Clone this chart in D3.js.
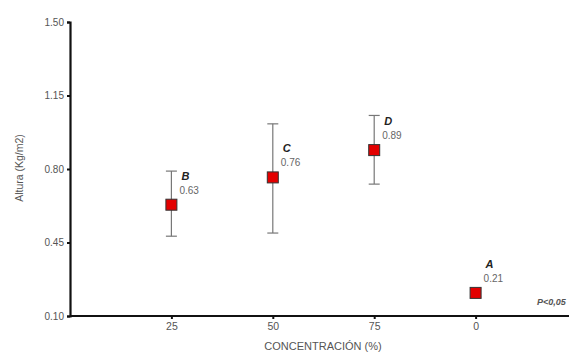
<!DOCTYPE html>
<html>
<head>
<meta charset="utf-8">
<script src="https://cdn.jsdelivr.net/npm/d3@7/dist/d3.min.js"></script>
<style>
  html, body { margin: 0; padding: 0; background: #fff; }
  svg { display: block; font-family: "Liberation Sans", Arial, sans-serif; }
</style>
</head>
<body>
<svg id="chart" width="569" height="353"></svg>
<script>
// Concentration groups along the x axis
const categories = ["25", "50", "75", "0"];
// Mean height per group and the ends of its error bar
const means = [0.63, 0.76, 0.89, 0.21];
const upper = [0.79, 1.015, 1.055, 0.23];
const lower = [0.48, 0.495, 0.728, 0.19];
// Significance letters for each group
const letters = ["B", "C", "D", "A"];
// Y axis tick values
const yTicks = [0.10, 0.45, 0.80, 1.15, 1.50];

const svg = d3.select("#chart");

const x = d3.scalePoint().domain(categories).range([70, 577]).padding(1);
const y = d3.scaleLinear().domain([0.10, 1.50]).range([316, 22]);

const rows = categories.map((c, i) => ({
  cat: c, mean: means[i], hi: upper[i], lo: lower[i], letter: letters[i]
}));

// Y axis
const yAxis = svg.append("g")
  .attr("transform", "translate(70,0)")
  .call(d3.axisLeft(y).tickValues(yTicks).tickFormat(d3.format(".2f")).tickSize(3).tickPadding(3));
yAxis.select(".domain").attr("stroke", "#111").attr("stroke-width", 2.2);
yAxis.selectAll(".tick line").attr("stroke", "#111").attr("stroke-width", 2);
yAxis.selectAll(".tick text")
  .attr("fill", "#555").style("font-size", "10px")
  .style("font-family", "Liberation Sans, Arial, sans-serif");

// X axis, running to the right edge
const xAxis = svg.append("g")
  .attr("transform", "translate(0,316)")
  .call(d3.axisBottom(x).tickSize(3).tickPadding(4).tickSizeOuter(0));
xAxis.select(".domain").attr("d", "M70,0H569").attr("stroke", "#111").attr("stroke-width", 2.2);
xAxis.selectAll(".tick line").attr("stroke", "#111").attr("stroke-width", 2);
xAxis.selectAll(".tick text")
  .attr("fill", "#555").style("font-size", "10.5px")
  .style("font-family", "Liberation Sans, Arial, sans-serif");

// Axis titles
svg.append("text")
  .attr("transform", "translate(23,168) rotate(-90)")
  .attr("text-anchor", "middle")
  .attr("fill", "#555")
  .style("font-size", "10.5px")
  .text("Altura (Kg/m2)");

svg.append("text")
  .attr("x", 323).attr("y", 350)
  .attr("text-anchor", "middle")
  .attr("fill", "#555")
  .style("font-size", "11px")
  .text("CONCENTRACIÓN (%)");

svg.append("text")
  .attr("x", 537).attr("y", 305)
  .attr("fill", "#555")
  .style("font-size", "9px")
  .style("font-weight", "bold")
  .style("font-style", "italic")
  .text("P<0,05");

// Error bars
const capW = 11;
const eb = svg.append("g").attr("stroke", "#777").attr("stroke-width", 1.2);
eb.selectAll("line.v").data(rows).join("line").attr("class", "v")
  .attr("x1", d => x(d.cat)).attr("x2", d => x(d.cat))
  .attr("y1", d => y(d.hi)).attr("y2", d => y(d.lo));
eb.selectAll("line.t").data(rows).join("line").attr("class", "t")
  .attr("x1", d => x(d.cat) - capW / 2).attr("x2", d => x(d.cat) + capW / 2)
  .attr("y1", d => y(d.hi)).attr("y2", d => y(d.hi));
eb.selectAll("line.b").data(rows).join("line").attr("class", "b")
  .attr("x1", d => x(d.cat) - capW / 2).attr("x2", d => x(d.cat) + capW / 2)
  .attr("y1", d => y(d.lo)).attr("y2", d => y(d.lo));

// Mean markers
const m = 11;
svg.append("g").selectAll("rect").data(rows).join("rect")
  .attr("x", d => x(d.cat) - m / 2)
  .attr("y", d => y(d.mean) - m / 2)
  .attr("width", m).attr("height", m)
  .attr("fill", "#e30000")
  .attr("stroke", "#333").attr("stroke-width", 1);

// Value labels and significance letters
svg.append("g").selectAll("text").data(rows).join("text")
  .attr("x", d => x(d.cat) + 8)
  .attr("y", d => y(d.mean) - 11)
  .attr("fill", "#666")
  .style("font-size", "10px")
  .text(d => d.mean.toFixed(2));

svg.append("g").selectAll("text").data(rows).join("text")
  .attr("x", d => x(d.cat) + 10)
  .attr("y", d => y(d.mean) - 25)
  .attr("fill", "#222")
  .style("font-size", "11px")
  .style("font-weight", "bold")
  .style("font-style", "italic")
  .text(d => d.letter);
</script>
</body>
</html>
